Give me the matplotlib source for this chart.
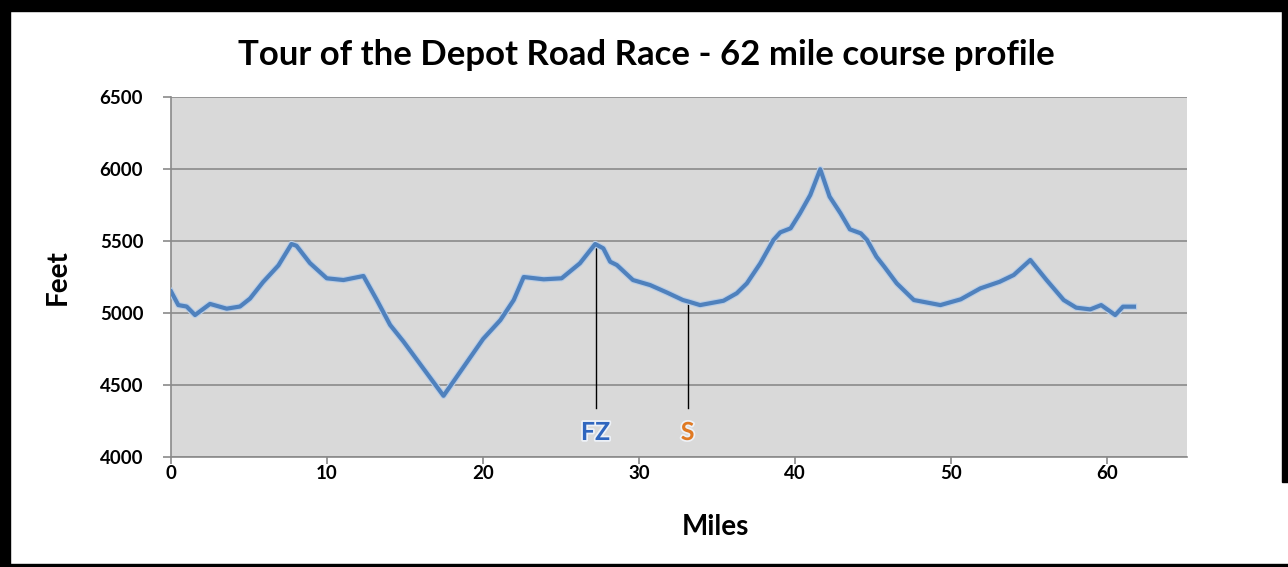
import matplotlib
matplotlib.use("Agg")
import matplotlib.pyplot as plt
from matplotlib.patches import Rectangle
import matplotlib.patheffects as pe

plt.rcParams['font.family'] = ['Lato', 'DejaVu Sans']

title = "Tour of the Depot Road Race - 62 mile course profile"
x_label = "Miles"
y_label = "Feet"

miles = [0, 0.47, 1.0, 1.54, 2.5, 3.57, 4.42, 5.06, 5.9, 6.88, 7.72, 8.04, 8.9,
         9.98, 11.05, 12.33, 13.19, 14.04, 14.9, 17.46, 20.0, 21.1, 21.96, 22.6,
         23.88, 25.03, 26.2, 27.18, 27.7, 28.14, 28.57, 29.6, 30.7, 31.8, 32.8,
         33.2, 33.9, 35.4, 36.25, 36.9, 37.76, 38.6, 39.04, 39.7, 40.3, 40.96,
         41.6, 42.2, 42.9, 43.5, 44.2, 44.6, 45.2, 45.7, 46.5, 47.6, 49.3, 50.6,
         51.86, 53.1, 54.0, 55.06, 56.1, 57.2, 58.0, 58.9, 59.6, 60.5, 61.0, 61.7]
feet = [5150, 5055, 5045, 4986, 5063, 5030, 5045, 5100, 5215, 5330, 5479, 5467, 5347,
        5241, 5229, 5257, 5090, 4917, 4801, 4425, 4820, 4950, 5090, 5250,
        5234, 5241, 5345, 5479, 5449, 5356, 5333, 5229, 5194, 5141, 5090,
        5078, 5055, 5085, 5137, 5206, 5345, 5507, 5560, 5588, 5692, 5819,
        5998, 5808, 5692, 5581, 5553, 5507, 5391, 5322, 5206, 5090, 5055, 5095,
        5171, 5217, 5264, 5368, 5229, 5090, 5037, 5025, 5055, 4986, 5044, 5044]

marker_labels = ["FZ", "S"]
marker_miles = [27.2, 33.1]
marker_tops = [5479, 5078]
marker_bottom = 4340
marker_text_y = 4170
marker_colors = ["#2f66bf", "#e07a24"]

x_ticks = [0, 10, 20, 30, 40, 50, 60]
y_ticks = [4000, 4500, 5000, 5500, 6000, 6500]

fig = plt.figure(figsize=(12.88, 5.67), dpi=100)
fig.patch.set_facecolor("white")

ax = fig.add_axes([171/1288, 1-457/567, (1187-171)/1288, (457-97)/567])
ax.set_facecolor("#d9d9d9")
ax.set_xlim(0, 65.1)
ax.set_ylim(4000, 6500)
ax.set_xticks(x_ticks)
ax.set_yticks(y_ticks)
ax.grid(axis="y", color="#8a8a8a", linewidth=1.2)
ax.set_axisbelow(True)
for s in ["top", "right"]:
    ax.spines[s].set_visible(False)
for s in ["left", "bottom"]:
    ax.spines[s].set_color("#8a8a8a")
    ax.spines[s].set_linewidth(1.2)
ax.tick_params(axis="y", length=6, width=1.2, color="#8a8a8a", pad=14, labelsize=13.5)
ax.tick_params(axis="x", length=5, width=1.2, color="#8a8a8a", pad=1, labelsize=13.5)
for lab in ax.get_xticklabels() + ax.get_yticklabels():
    lab.set_fontweight("bold")

ax.plot(miles, feet, color="#4f81bd", linewidth=3.0, solid_joinstyle="round",
        path_effects=[pe.Stroke(linewidth=4.6, foreground="#b9cde6"), pe.Normal()], zorder=3)

for lab, mx, top, col in zip(marker_labels, marker_miles, marker_tops, marker_colors):
    ax.plot([mx, mx], [marker_bottom, top], color="black", linewidth=1.0, zorder=2)
    ax.text(mx, marker_text_y, lab, color=col, fontsize=18, fontweight="bold",
            ha="center", va="center", zorder=4,
            path_effects=[pe.withStroke(linewidth=2.5, foreground="#eef2f8")])

fig.text(0.502, 1-55/567, title, fontsize=25, fontweight="bold", ha="center", va="center")
fig.text(715/1288, 1-527/567, x_label, fontsize=20, fontweight="bold", ha="center", va="center")
fig.text(58/1288, 1-277/567, y_label, fontsize=20, fontweight="bold", ha="center", va="center",
         rotation=90)

# black frame around the picture
W, H = 1288, 567
fig.patches.append(Rectangle((0, 1-11/H), 1, 11/H, transform=fig.transFigure, color="black", zorder=10))
fig.patches.append(Rectangle((0, 0), 10/W, 1, transform=fig.transFigure, color="black", zorder=10))
fig.patches.append(Rectangle((1-6/W, 0.15), 6/W, 0.85, transform=fig.transFigure, color="black", zorder=10))
fig.patches.append(Rectangle((0, 0), 1, 3/H, transform=fig.transFigure, color="black", zorder=10))

fig.savefig("out.png", dpi=100)
